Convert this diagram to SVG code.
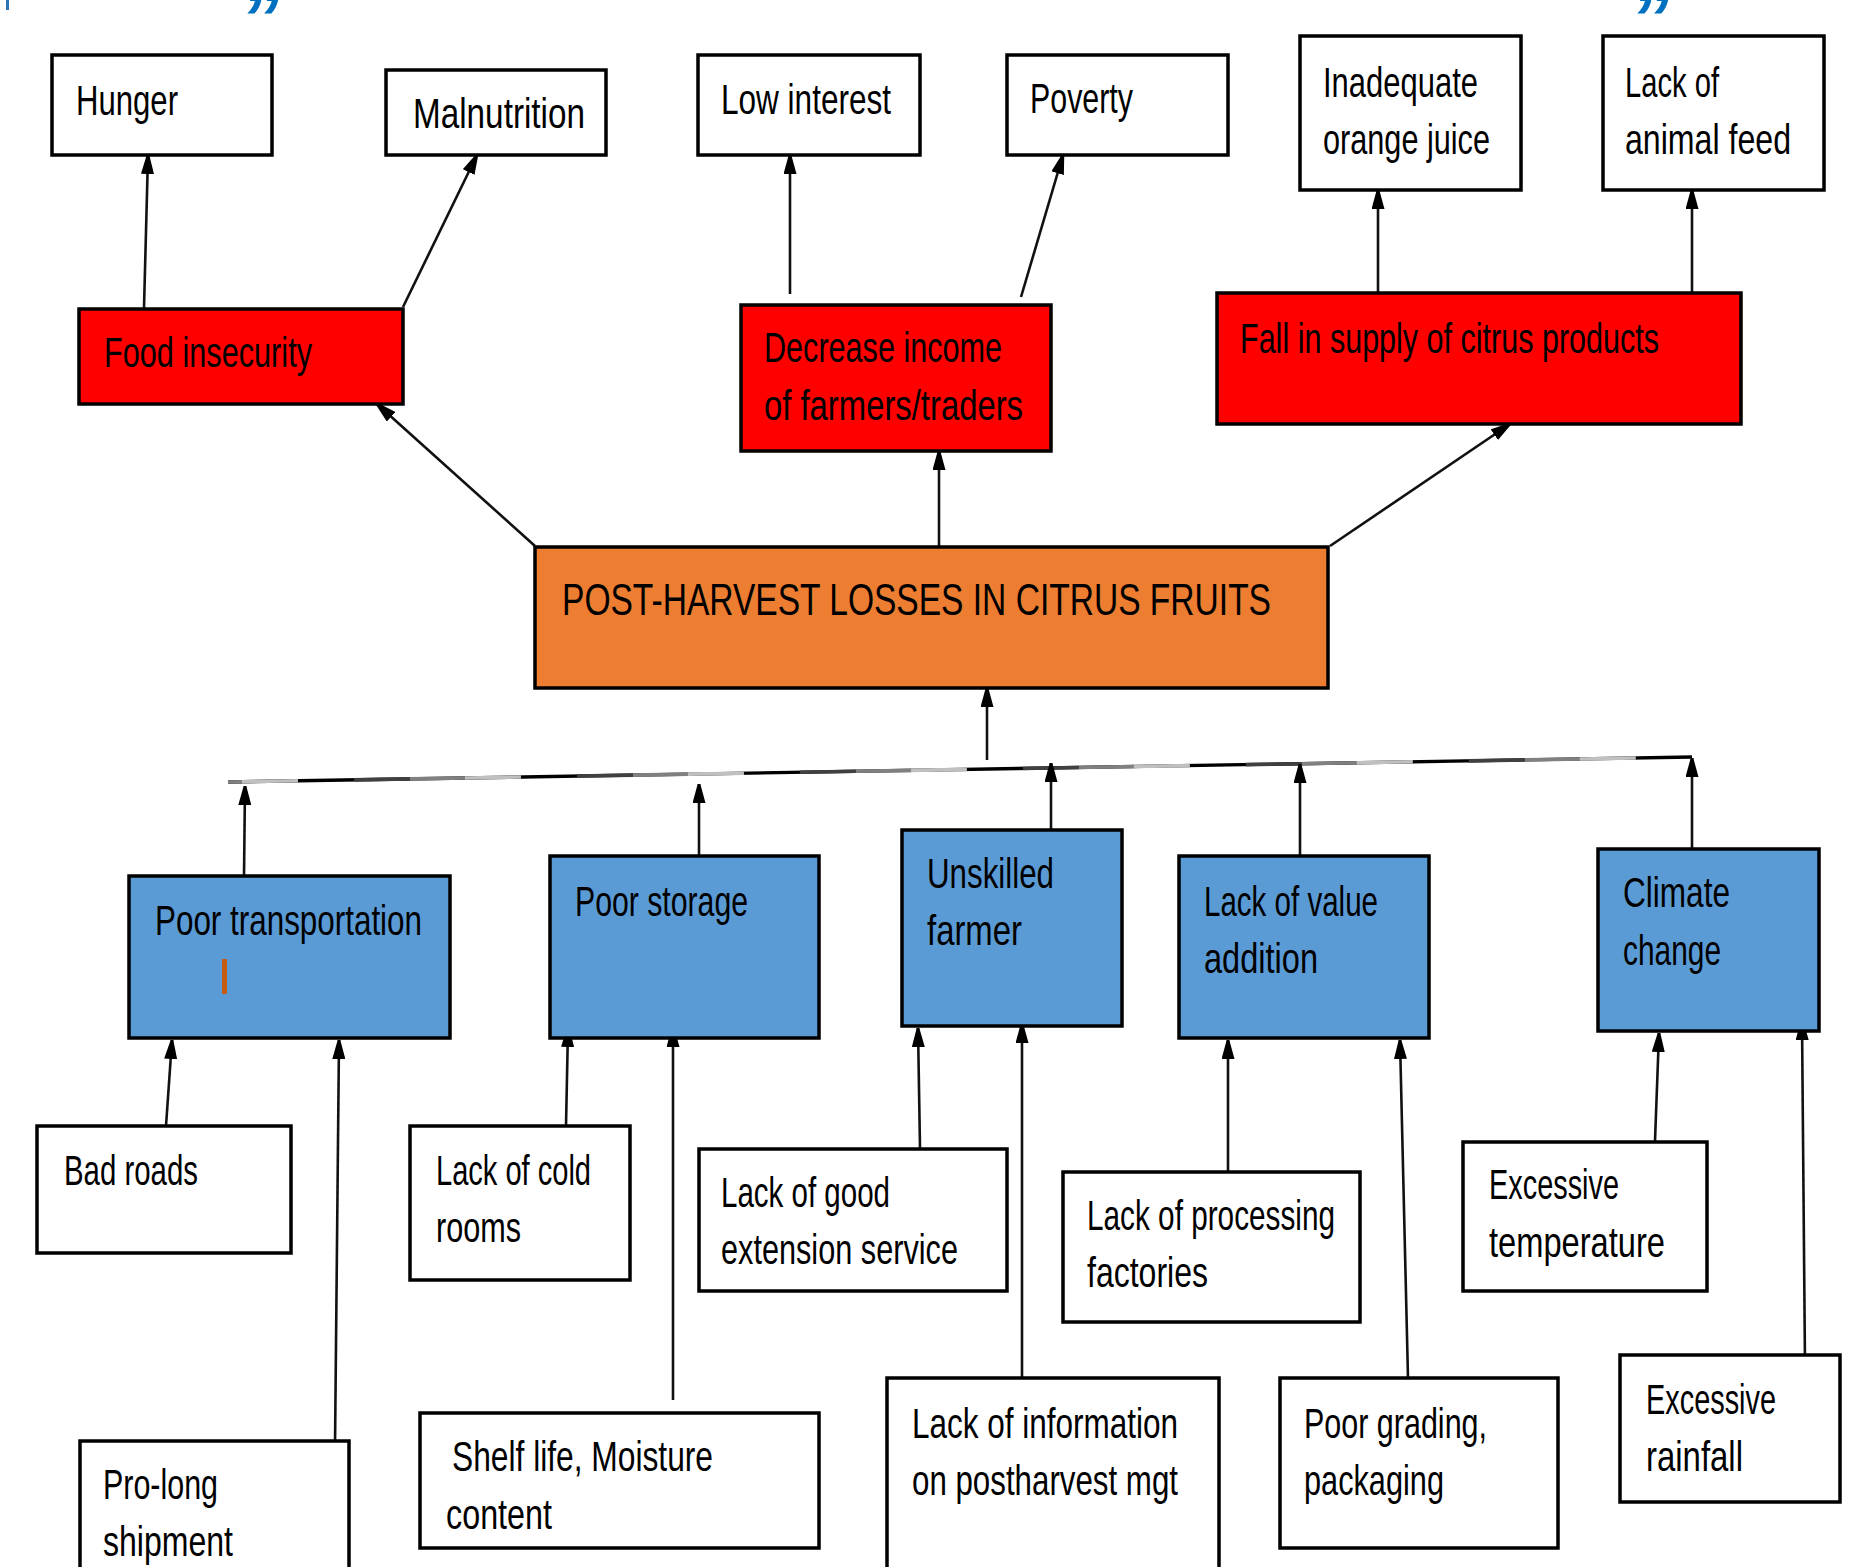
<svg xmlns="http://www.w3.org/2000/svg" width="1863" height="1567" viewBox="0 0 1863 1567">
<style>
.box{stroke:#000;stroke-width:3.5}
.w{fill:#fff}
.r{fill:#ff0000}
.o{fill:#ed7d31}
.b{fill:#5b9bd5}
text{font-family:"Liberation Sans",Arial,sans-serif;font-size:43px;fill:#000}
.big{font-size:44px}
.c{stroke:#111;stroke-width:2.6;fill:none;marker-end:url(#ah)}
.q{font-family:"Liberation Sans",Arial,sans-serif;font-weight:bold;font-style:italic;font-size:80px;fill:#0070c0}
</style>
<defs>
<marker id="ah" viewBox="0 0 19 13" refX="19" refY="6.5" markerWidth="19" markerHeight="13" markerUnits="userSpaceOnUse" orient="auto">
<path d="M0,0 L19,5.2 L19,7.8 L0,13 z" fill="#000"/>
</marker>
</defs>

<g id="artifacts">
<rect x="6" y="0" width="3" height="10" fill="#2e75b6"/>
<text class="q" x="240" y="46">”</text>
<text class="q" x="1630" y="46">”</text>
</g>

<g id="connectors">
<line class="c" x1="144" y1="308" x2="148" y2="155"/>
<line class="c" x1="403" y1="307" x2="477" y2="155"/>
<line class="c" x1="790" y1="294" x2="790" y2="155"/>
<line class="c" x1="1021" y1="297" x2="1063" y2="155"/>
<line class="c" x1="1378" y1="292" x2="1378" y2="190"/>
<line class="c" x1="1692" y1="292" x2="1692" y2="190"/>
<line class="c" x1="535" y1="546" x2="377" y2="404"/>
<line class="c" x1="939" y1="546" x2="939" y2="451"/>
<line class="c" x1="1330" y1="546" x2="1510" y2="424"/>
<line class="c" x1="987" y1="760" x2="987" y2="688"/>
<g id="bus">
<line x1="228" y1="782" x2="1692" y2="757" stroke="#000" stroke-width="3.4"/>
<line x1="228" y1="782" x2="1636" y2="758" stroke="#404040" stroke-width="3.6" stroke-dasharray="56 167" stroke-dashoffset="97"/>
<line x1="228" y1="782" x2="1636" y2="758" stroke="#808080" stroke-width="3.6" stroke-dasharray="56 167" stroke-dashoffset="41"/>
<line x1="228" y1="782" x2="1636" y2="758" stroke="#c0c0c0" stroke-width="3.6" stroke-dasharray="56 167" stroke-dashoffset="209"/>
</g>
<line class="c" x1="244" y1="876" x2="245" y2="786"/>
<line class="c" x1="699" y1="856" x2="699" y2="784"/>
<line class="c" x1="1051" y1="830" x2="1051" y2="763"/>
<line class="c" x1="1300" y1="856" x2="1300" y2="764"/>
<line class="c" x1="1692" y1="849" x2="1692" y2="758"/>
<line class="c" x1="166" y1="1126" x2="172" y2="1040"/>
<line class="c" x1="335" y1="1447" x2="339" y2="1040"/>
<line class="c" x1="566" y1="1126" x2="568" y2="1028"/>
<line class="c" x1="673" y1="1400" x2="673" y2="1028"/>
<line class="c" x1="920" y1="1148" x2="918" y2="1028"/>
<line class="c" x1="1022" y1="1378" x2="1022" y2="1024"/>
<line class="c" x1="1228" y1="1172" x2="1228" y2="1040"/>
<line class="c" x1="1408" y1="1378" x2="1400" y2="1040"/>
<line class="c" x1="1655" y1="1141" x2="1659" y2="1033"/>
<line class="c" x1="1805" y1="1365" x2="1802" y2="1021"/>
</g>

<g id="hunger"><rect class="box w" x="52" y="55" width="220" height="100"/><text x="76" y="115" textLength="102" lengthAdjust="spacingAndGlyphs">Hunger</text></g>
<g id="malnutrition"><rect class="box w" x="386" y="70" width="220" height="85"/><text x="413" y="128" textLength="172" lengthAdjust="spacingAndGlyphs">Malnutrition</text></g>
<g id="low-interest"><rect class="box w" x="698" y="55" width="222" height="100"/><text x="721" y="114" textLength="170" lengthAdjust="spacingAndGlyphs">Low interest</text></g>
<g id="poverty"><rect class="box w" x="1007" y="55" width="221" height="100"/><text x="1030" y="113" textLength="103" lengthAdjust="spacingAndGlyphs">Poverty</text></g>
<g id="inadequate-juice"><rect class="box w" x="1300" y="36" width="221" height="154"/><text x="1323" y="97" textLength="155" lengthAdjust="spacingAndGlyphs">Inadequate</text><text x="1323" y="154" textLength="167" lengthAdjust="spacingAndGlyphs">orange juice</text></g>
<g id="animal-feed"><rect class="box w" x="1603" y="36" width="221" height="154"/><text x="1625" y="97" textLength="94" lengthAdjust="spacingAndGlyphs">Lack of</text><text x="1625" y="154" textLength="166" lengthAdjust="spacingAndGlyphs">animal feed</text></g>

<g id="food-insecurity"><rect class="box r" x="79" y="309" width="324" height="95"/><text x="104" y="367" textLength="208" lengthAdjust="spacingAndGlyphs">Food insecurity</text></g>
<g id="decrease-income"><rect class="box r" x="741" y="305" width="310" height="146"/><text x="764" y="362" textLength="238" lengthAdjust="spacingAndGlyphs">Decrease income</text><text x="764" y="420" textLength="259" lengthAdjust="spacingAndGlyphs">of farmers/traders</text></g>
<g id="fall-supply"><rect class="box r" x="1217" y="293" width="524" height="131"/><text x="1240" y="353" textLength="419" lengthAdjust="spacingAndGlyphs">Fall in supply of citrus products</text></g>

<g id="post-harvest"><rect class="box o" x="535" y="547" width="793" height="141"/><text class="big" x="562" y="615" textLength="709" lengthAdjust="spacingAndGlyphs">POST-HARVEST LOSSES IN CITRUS FRUITS</text></g>

<g id="poor-transportation"><rect class="box b" x="129" y="876" width="321" height="162"/><text x="155" y="935" textLength="267" lengthAdjust="spacingAndGlyphs">Poor transportation</text><rect x="222" y="959" width="5" height="35" fill="#c55a11"/></g>
<g id="poor-storage"><rect class="box b" x="550" y="856" width="269" height="182"/><text x="575" y="916" textLength="173" lengthAdjust="spacingAndGlyphs">Poor storage</text></g>
<g id="unskilled-farmer"><rect class="box b" x="902" y="830" width="220" height="196"/><text x="927" y="888" textLength="127" lengthAdjust="spacingAndGlyphs">Unskilled</text><text x="927" y="945" textLength="95" lengthAdjust="spacingAndGlyphs">farmer</text></g>
<g id="value-addition"><rect class="box b" x="1179" y="856" width="250" height="182"/><text x="1204" y="916" textLength="174" lengthAdjust="spacingAndGlyphs">Lack of value</text><text x="1204" y="973" textLength="114" lengthAdjust="spacingAndGlyphs">addition</text></g>
<g id="climate-change"><rect class="box b" x="1598" y="849" width="221" height="182"/><text x="1623" y="907" textLength="107" lengthAdjust="spacingAndGlyphs">Climate</text><text x="1623" y="965" textLength="98" lengthAdjust="spacingAndGlyphs">change</text></g>

<g id="bad-roads"><rect class="box w" x="37" y="1126" width="254" height="127"/><text x="64" y="1185" textLength="134" lengthAdjust="spacingAndGlyphs">Bad roads</text></g>
<g id="cold-rooms"><rect class="box w" x="410" y="1126" width="220" height="154"/><text x="436" y="1185" textLength="155" lengthAdjust="spacingAndGlyphs">Lack of cold</text><text x="436" y="1242" textLength="85" lengthAdjust="spacingAndGlyphs">rooms</text></g>
<g id="extension-service"><rect class="box w" x="699" y="1149" width="308" height="142"/><text x="721" y="1207" textLength="169" lengthAdjust="spacingAndGlyphs">Lack of good</text><text x="721" y="1264" textLength="237" lengthAdjust="spacingAndGlyphs">extension service</text></g>
<g id="processing-factories"><rect class="box w" x="1063" y="1172" width="297" height="150"/><text x="1087" y="1230" textLength="248" lengthAdjust="spacingAndGlyphs">Lack of processing</text><text x="1087" y="1287" textLength="121" lengthAdjust="spacingAndGlyphs">factories</text></g>
<g id="excessive-temperature"><rect class="box w" x="1463" y="1142" width="244" height="149"/><text x="1489" y="1199" textLength="130" lengthAdjust="spacingAndGlyphs">Excessive</text><text x="1489" y="1257" textLength="176" lengthAdjust="spacingAndGlyphs">temperature</text></g>

<g id="pro-long-shipment"><rect class="box w" x="80" y="1441" width="269" height="200"/><text x="103" y="1499" textLength="115" lengthAdjust="spacingAndGlyphs">Pro-long</text><text x="103" y="1556" textLength="130" lengthAdjust="spacingAndGlyphs">shipment</text></g>
<g id="shelf-life"><rect class="box w" x="420" y="1413" width="399" height="135"/><text x="452" y="1471" textLength="261" lengthAdjust="spacingAndGlyphs">Shelf life, Moisture</text><text x="446" y="1529" textLength="106" lengthAdjust="spacingAndGlyphs">content</text></g>
<g id="lack-information"><rect class="box w" x="887" y="1378" width="332" height="250"/><text x="912" y="1438" textLength="266" lengthAdjust="spacingAndGlyphs">Lack of information</text><text x="912" y="1495" textLength="266" lengthAdjust="spacingAndGlyphs">on postharvest mgt</text></g>
<g id="poor-grading"><rect class="box w" x="1280" y="1378" width="278" height="170"/><text x="1304" y="1438" textLength="183" lengthAdjust="spacingAndGlyphs">Poor grading,</text><text x="1304" y="1495" textLength="140" lengthAdjust="spacingAndGlyphs">packaging</text></g>
<g id="excessive-rainfall"><rect class="box w" x="1620" y="1355" width="220" height="147"/><text x="1646" y="1414" textLength="130" lengthAdjust="spacingAndGlyphs">Excessive</text><text x="1646" y="1471" textLength="97" lengthAdjust="spacingAndGlyphs">rainfall</text></g>
</svg>
